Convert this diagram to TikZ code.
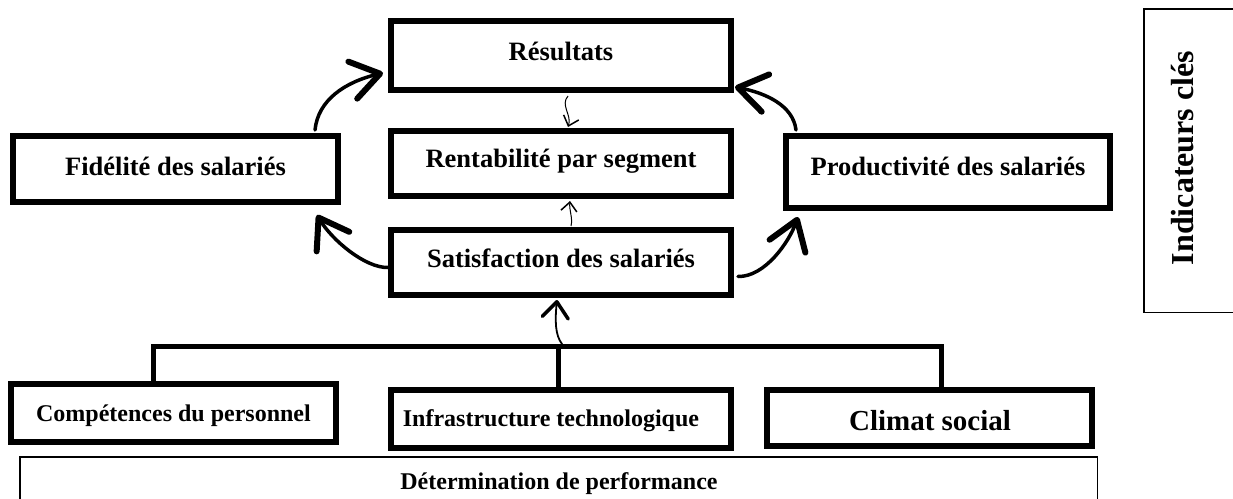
\documentclass[tikz,border=0pt]{standalone}
\usepackage{fontspec}
\setmainfont{Liberation Serif}
\usetikzlibrary{arrows.meta,calc}
\tikzset{
 bx/.style={draw, line width=6pt, rectangle, inner sep=0pt},
 thinbx/.style={draw, line width=1.5pt, rectangle, inner sep=0pt},
 lbl/.style={anchor=base, inner sep=0pt, font=\bfseries\fontsize{26.5}{30}\selectfont},
 lblsm/.style={anchor=base, inner sep=0pt, font=\bfseries\fontsize{24}{28}\selectfont},
 brush/.style={line width=3.5pt, line cap=round, -{Straight Barb[length=28pt,width=38pt,line width=6pt,round]}},
 midarrow/.style={line width=1.8pt, line cap=round, -{Straight Barb[length=16pt,width=26pt,line width=3.5pt,round]}},
 thinarrow/.style={line width=1pt, -{Straight Barb[length=9pt,width=16pt,line width=1.5pt]}},
 barline/.style={line width=5pt, line join=miter},
}
\begin{document}
\begin{tikzpicture}[x=1pt,y=-1pt]
\useasboundingbox (0,0) rectangle (1233,498);
% boxes
\node[bx, minimum width=340pt, minimum height=69pt] (res) at (561,55.5) {};
\node[bx, minimum width=340pt, minimum height=65pt] (rent) at (561,163.5) {};
\node[bx, minimum width=340pt, minimum height=65pt] (sat) at (561,262.5) {};
\node[bx, minimum width=325pt, minimum height=66pt] (fid) at (175.5,169) {};
\node[bx, minimum width=324pt, minimum height=72pt] (prod) at (948,172) {};
\node[bx, minimum width=325pt, minimum height=58pt] (comp) at (173.5,413) {};
\node[bx, minimum width=340pt, minimum height=58pt] (infra) at (561,419) {};
\node[bx, minimum width=325pt, minimum height=56pt] (clim) at (929.5,418) {};
\node[thinbx, minimum width=1077.5pt, minimum height=72.5pt] (det) at (558.5,493) {};
\node[thinbx, minimum width=100.5pt, minimum height=303.5pt] (ind) at (1194,160.5) {};
% labels
\node[lbl] (tres) at (561,60) {Résultats};
\node[lbl] (trent) at (561,167) {Rentabilité par segment};
\node[lbl] (tsat) at (561,267) {Satisfaction des salariés};
\node[lbl] (tfid) at (175.5,175) {Fidélité des salariés};
\node[lbl] (tprod) at (948,175) {Productivité des salariés};
\node[lblsm] (tcomp) at (173.5,421) {Compétences du personnel};
\node[lblsm] (tinfra) at (551,426) {Infrastructure technologique};
\node[anchor=base, inner sep=0pt, font=\bfseries\fontsize{29}{33}\selectfont] (tclim) at (930,430) {Climat social};
\node[lblsm] (tdet) at (559,489) {Détermination de performance};
\node[anchor=base, inner sep=0pt, rotate=90, font=\bfseries\fontsize{32}{36}\selectfont] (tind) at (1193,158) {Indicateurs clés};
% tree bar
\coordinate (bw) at (153,346);
\coordinate (bm) at (558,346);
\coordinate (be) at (941,346);
\draw[barline] (comp.north -| bw) -- (bw) -- (be) -- (clim.north -| be);
\draw[barline] (bm) -- (infra.north -| bm);
% brush arrows
\draw[brush] ($(fid.north east)+(-26,-3)$) .. controls (318,100) and (345,82) .. ($(res.south west)+(-5,-20)$);
\draw[brush] ($(sat.west)+(0,5)$) .. controls (365,268) and (332,240) .. ($(fid.south east)+(-24,10)$);
\draw[brush] ($(prod.north west)+(13,-3)$) .. controls (793,105) and (765,93) .. ($(res.south east)+(1,-6)$);
\draw[brush] ($(sat.east)+(4,14)$) .. controls (765,277) and (789,242) .. ($(prod.south west)+(15,6)$);
% small arrows
\draw[thinarrow] ($(res.south)+(7,3)$) .. controls (560,105) and (572,115) .. ($(rent.north)+(7,-1)$);
\draw[thinarrow] ($(sat.north)+(10,-1)$) .. controls (573,218) and (569,210) .. ($(rent.south)+(9,2)$);
\draw[midarrow] ($(bm)+(4,-2)$) .. controls (555,335) and (555,320) .. ($(sat.south)+(-4,2)$);
\end{tikzpicture}
\end{document}
